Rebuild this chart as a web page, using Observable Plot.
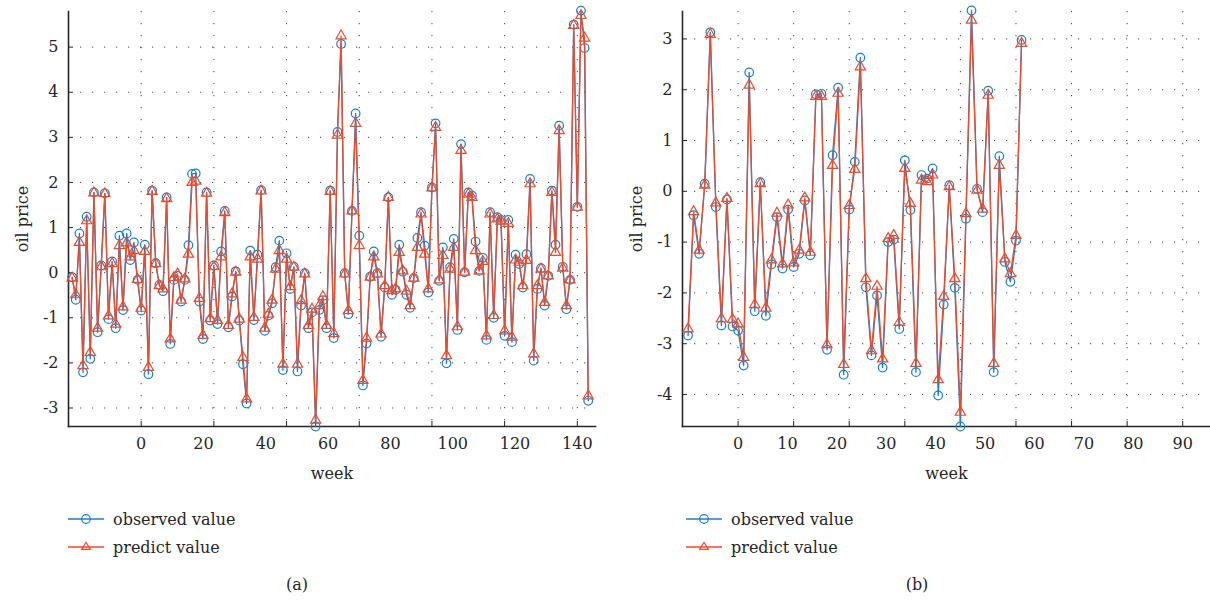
<!DOCTYPE html>
<html>
<head>
<meta charset="utf-8">
<script src="https://cdn.jsdelivr.net/npm/d3@7"></script>
<script src="https://cdn.jsdelivr.net/npm/@observablehq/plot@0.6"></script>
<style>
  body { margin: 0; background: #fff; }
  #wrap { position: relative; width: 1210px; height: 603px; font-family: "DejaVu Serif", serif; color: #262626; overflow: hidden; }
  .panel { position: absolute; top: 0; }
  .legend { position: absolute; top: 505px; font-size: 16px; }
  .legend .row { display: flex; align-items: center; height: 28px; white-space: nowrap; }
  .legend svg { margin-right: 9px; }
  .cap { position: absolute; top: 574px; font-size: 16px; line-height: 22px; transform: translateX(-50%); }
</style>
</head>
<body>
<div id="wrap"></div>
<script>
// ---------- data: panel (a) ----------
const observedA = [
  -0.10,-0.60,0.87,-2.21,1.24,-1.91,1.78,-1.32,0.16,1.76,
  -1.03,0.25,-1.23,0.82,-0.83,0.87,0.28,0.67,-0.16,-0.84,
  0.62,-2.25,1.82,0.21,-0.27,-0.41,1.67,-1.58,-0.16,-0.07,
  -0.64,-0.16,0.61,2.19,2.20,-0.64,-1.47,1.78,-1.06,0.16,
  -1.14,0.47,1.37,-1.21,-0.53,0.03,-1.06,-2.03,-2.90,0.49,
  -1.05,0.40,1.83,-1.29,-0.95,-0.68,0.12,0.71,-2.16,0.43,
  -0.36,0.13,-2.19,-0.73,-0.01,-1.23,-0.88,-3.41,-0.83,-0.61,
  -1.23,1.82,-1.45,3.12,5.07,-0.01,-0.92,1.37,3.53,0.82,
  -2.50,-1.57,-0.09,0.47,-0.01,-1.42,-0.33,1.67,-0.49,-0.38,
  0.62,0.02,-0.49,-0.78,-0.12,0.77,1.34,0.60,-0.44,1.89,
  3.31,-0.18,0.56,-2.01,0.12,0.75,-1.27,2.85,0.01,1.78,
  1.71,0.69,0.04,0.33,-1.49,1.34,-1.00,1.23,1.17,-1.40,
  1.17,-1.54,0.40,0.19,-0.33,0.41,2.08,-1.95,-0.36,0.10,
  -0.73,-0.07,1.82,0.62,3.26,0.13,-0.81,-0.16,5.50,1.46,
  5.81,4.98,-2.84
];
const predictedA = [
  -0.12,-0.49,0.67,-2.06,1.15,-1.77,1.77,-1.23,0.13,1.75,
  -0.96,0.20,-1.14,0.60,-0.76,0.66,0.35,0.49,-0.15,-0.79,
  0.47,-2.10,1.80,0.20,-0.29,-0.36,1.64,-1.47,-0.11,-0.03,
  -0.61,-0.14,0.41,2.00,2.03,-0.57,-1.39,1.76,-1.02,0.13,
  -1.06,0.35,1.33,-1.17,-0.47,0.01,-1.03,-1.88,-2.80,0.35,
  -0.99,0.30,1.81,-1.23,-0.92,-0.61,0.08,0.49,-2.03,0.30,
  -0.31,0.12,-2.03,-0.62,-0.03,-1.17,-0.81,-3.27,-0.73,-0.53,
  -1.17,1.80,-1.35,3.05,5.25,-0.03,-0.84,1.37,3.31,0.60,
  -2.39,-1.45,-0.10,0.35,-0.03,-1.36,-0.29,1.67,-0.40,-0.36,
  0.45,0.04,-0.41,-0.73,-0.12,0.56,1.30,0.41,-0.36,1.88,
  3.22,-0.16,0.38,-1.84,0.08,0.56,-1.20,2.71,0.01,1.74,
  1.67,0.49,0.04,0.25,-1.40,1.30,-0.95,1.19,1.14,-1.29,
  1.09,-1.43,0.28,0.23,-0.29,0.27,1.97,-1.80,-0.29,0.08,
  -0.66,-0.07,1.78,0.45,3.15,0.10,-0.73,-0.16,5.48,1.45,
  5.70,5.20,-2.73
];
const xTicksA = [0, 20, 40, 60, 80, 100, 120, 140];
const xLabelsA = [0, 20, 40, 60, 80, 100, 120, 140];
const yTicksA = [-3, -2, -1, 0, 1, 2, 3, 4, 5];

// ---------- data: panel (b) ----------
const observedB = [
  -2.84,-0.47,-1.23,0.15,3.13,-0.31,-2.64,-0.16,-2.66,-2.74,
  -3.43,2.34,-2.36,0.18,-2.45,-1.44,-0.51,-1.52,-0.36,-1.49,
  -1.23,-0.18,-1.26,1.91,1.92,-3.12,0.71,2.04,-3.61,-0.36,
  0.58,2.63,-1.89,-3.23,-2.05,-3.47,-1.00,-0.95,-2.71,0.61,
  -0.37,-3.56,0.32,0.25,0.45,-4.02,-2.23,0.12,-1.90,-4.63,
  -0.54,3.56,0.05,-0.41,1.98,-3.56,0.69,-1.39,-1.78,-0.97,
  2.98
];
const predictedB = [
  -2.71,-0.40,-1.16,0.12,3.09,-0.23,-2.51,-0.14,-2.52,-2.61,
  -3.27,2.09,-2.23,0.15,-2.30,-1.35,-0.43,-1.43,-0.27,-1.41,
  -1.16,-0.13,-1.20,1.87,1.87,-3.02,0.51,1.93,-3.41,-0.28,
  0.43,2.45,-1.72,-3.14,-1.87,-3.30,-0.93,-0.87,-2.58,0.45,
  -0.24,-3.39,0.22,0.19,0.32,-3.71,-2.07,0.09,-1.72,-4.35,
  -0.44,3.37,0.02,-0.35,1.89,-3.39,0.51,-1.33,-1.62,-0.87,
  2.91
];
const xTicksB = [0, 10, 20, 30, 40, 50, 60, 70, 80, 90];
const xLabelsB = [0, 10, 20, 30, 40, 50, 60, 70, 80, 90];
const yTicksB = [-4, -3, -2, -1, 0, 1, 2, 3];

const BLUE = "#1b7fcc";
const RED = "#ee4a2c";
const INK = "#262626";
const FONT = "DejaVu Serif";

function panel({obs, pred, xDomain, yDomain, xTicks, xLabels, labelAt, yTicks, marginLeft, marginRight}) {
  const rows = obs.map((v, i) => ({week: i + 1, obs: v, pred: pred[i]}));
  const grid = {stroke: "#222", strokeOpacity: 0.85, strokeWidth: 1, strokeDasharray: "1.2,10.8"};
  return Plot.plot({
    width: 605,
    height: 495,
    marginLeft, marginRight,
    marginTop: 11,
    marginBottom: 69,
    x: {domain: xDomain, label: null},
    y: {domain: yDomain, label: null},
    style: {fontFamily: FONT, fontSize: "16px", color: INK, background: "transparent", overflow: "visible"},
    marks: [
      Plot.gridX(xTicks, grid),
      Plot.gridY(yTicks, grid),
      Plot.axisX(xTicks, {tickSize: -5, tickFormat: () => "", stroke: INK, label: null}),
      Plot.axisY(yTicks, {tickSize: -5, tickFormat: () => "", stroke: INK, label: null}),
      Plot.axisY(yTicks, {tickSize: 0, tickPadding: 10, tickFormat: d => String(d), fontSize: 16, fill: INK, label: null}),
      Plot.text(xLabels, {x: labelAt, text: d => String(d), frameAnchor: "bottom", lineAnchor: "middle", textAnchor: "middle", dy: 17, fontSize: 16, fill: INK}),
      Plot.frame({anchor: "left", stroke: INK, strokeWidth: 1.6}),
      Plot.frame({anchor: "bottom", stroke: INK, strokeWidth: 1.6}),
      Plot.line(rows, {x: "week", y: "obs", stroke: BLUE, strokeWidth: 1.3}),
      Plot.dot(rows, {x: "week", y: "obs", r: 4.3, stroke: BLUE, strokeWidth: 1.2, fill: "none"}),
      Plot.line(rows, {x: "week", y: "pred", stroke: RED, strokeWidth: 1.3}),
      Plot.dot(rows, {x: "week", y: "pred", symbol: "triangle", r: 3.8, stroke: RED, strokeWidth: 1.2, fill: "none"}),
      Plot.text(["oil price"], {frameAnchor: "left", textAnchor: "middle", lineAnchor: "middle", dx: -46, rotate: -90, fontSize: 16, fill: INK}),
      Plot.text(["week"], {frameAnchor: "bottom", textAnchor: "middle", lineAnchor: "middle", dy: 47, fontSize: 16, fill: INK})
    ]
  });
}

const wrap = document.getElementById("wrap");

const a = panel({
  obs: observedA, pred: predictedA,
  xDomain: [0, 145], yDomain: [-3.41, 5.79],
  xTicks: xTicksA, xLabels: xLabelsA,
  labelAt: d => 20 + d * 6 / 7,
  yTicks: yTicksA, marginLeft: 68, marginRight: 10
});
a.classList.add("panel"); a.style.left = "0px";
wrap.appendChild(a);

const b = panel({
  obs: observedB, pred: predictedB,
  xDomain: [0, 95], yDomain: [-4.63, 3.54],
  xTicks: xTicksB, xLabels: xLabelsB,
  labelAt: d => 10 + d * 8 / 9,
  yTicks: yTicksB, marginLeft: 77, marginRight: 0
});
b.classList.add("panel"); b.style.left = "605px";
wrap.appendChild(b);

function legendSwatch(color, symbol) {
  const mark = symbol === "circle"
    ? `<circle cx="18" cy="8" r="4.3" fill="none" stroke="${color}" stroke-width="1.2"/>`
    : `<path d="M18,3.3 L22.4,10.4 L13.6,10.4 Z" fill="none" stroke="${color}" stroke-width="1.2"/>`;
  return `<svg width="36" height="16"><line x1="0" y1="8" x2="36" y2="8" stroke="${color}" stroke-width="1.3"/>${mark}</svg>`;
}
const series = [
  {name: "observed value", color: BLUE, symbol: "circle"},
  {name: "predict value", color: RED, symbol: "triangle"}
];
[[68, "(a)", 297], [686, "(b)", 917]].forEach(([left, cap, capX]) => {
  const lg = document.createElement("div");
  lg.className = "legend";
  lg.style.left = left + "px";
  lg.innerHTML = series.map(s => `<div class="row">${legendSwatch(s.color, s.symbol)}<span>${s.name}</span></div>`).join("");
  wrap.appendChild(lg);
  const c = document.createElement("div");
  c.className = "cap";
  c.style.left = capX + "px";
  c.textContent = cap;
  wrap.appendChild(c);
});
</script>
</body>
</html>
